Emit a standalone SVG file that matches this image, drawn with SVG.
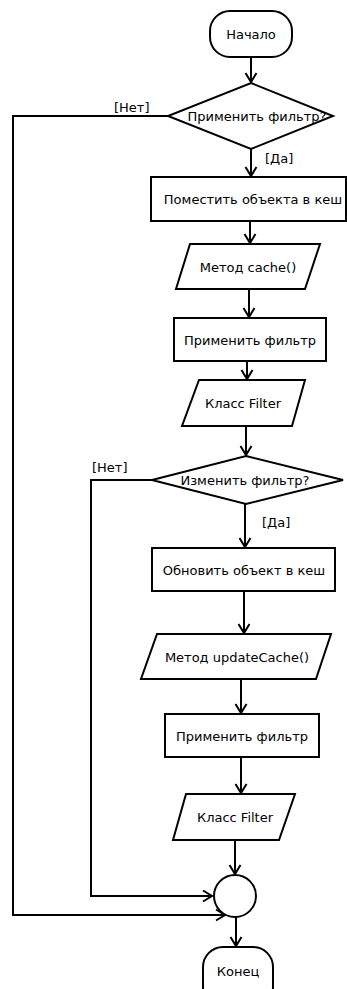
<svg xmlns="http://www.w3.org/2000/svg" width="347" height="989" viewBox="0 0 347 989">
<style>
.s{fill:#fff;stroke:#000;stroke-width:2}
.c{fill:none;stroke:#000;stroke-width:2}
text{font-family:"DejaVu Sans",Verdana,sans-serif;font-size:13px;fill:#000}
.m{text-anchor:middle}
</style>
<defs>
<marker id="a" markerUnits="userSpaceOnUse" markerWidth="14" markerHeight="14" refX="12" refY="7" orient="auto" viewBox="0 0 14 14">
<path d="M3,1.5 L12,7 L3,12.5" fill="none" stroke="#000" stroke-width="2"/>
</marker>
</defs>
<rect width="347" height="989" fill="#fff"/>
<g id="connectors">
<path class="c" d="M251,57 V82" marker-end="url(#a)"/>
<path class="c" d="M251,149 V176" marker-end="url(#a)"/>
<path class="c" d="M250,221 V243" marker-end="url(#a)"/>
<path class="c" d="M249,289 V317" marker-end="url(#a)"/>
<path class="c" d="M247,361 V379" marker-end="url(#a)"/>
<path class="c" d="M246,426 V455" marker-end="url(#a)"/>
<path class="c" d="M245,504 V547" marker-end="url(#a)"/>
<path class="c" d="M244,591 V633" marker-end="url(#a)"/>
<path class="c" d="M241,679 V713" marker-end="url(#a)"/>
<path class="c" d="M241,757 V793" marker-end="url(#a)"/>
<path class="c" d="M235,840 V874" marker-end="url(#a)"/>
<path class="c" d="M236,917 V946" marker-end="url(#a)"/>
<path class="c" d="M168,116 H13 V915 H225" marker-end="url(#a)"/>
<path class="c" d="M152,480 H91 V896 H212" marker-end="url(#a)"/>
<text x="114" y="112">[Нет]</text>
<text x="265" y="163">[Да]</text>
<text x="92" y="472">[Нет]</text>
<text x="262" y="527">[Да]</text>
</g>
<g id="start">
<rect class="s" x="210" y="11" width="82" height="46" rx="20" ry="20"/>
<text class="m" x="251" y="39">Начало</text>
</g>
<g id="dec1">
<polygon class="s" points="251,83 333,116 251,149 168,116"/>
<text class="m" x="257" y="121">Применить фильтр?</text>
</g>
<g id="put">
<rect class="s" x="151" y="177" width="195" height="44"/>
<text class="m" x="253" y="204">Поместить объекта в кеш</text>
</g>
<g id="cache">
<polygon class="s" points="190,244 320,244 305,289 176,289"/>
<text class="m" x="248" y="272">Метод cache()</text>
</g>
<g id="apply1">
<rect class="s" x="174" y="318" width="152" height="43"/>
<text class="m" x="250" y="345">Применить фильтр</text>
</g>
<g id="filter1">
<polygon class="s" points="199,380 305,380 292,426 182,426"/>
<text class="m" x="243" y="408">Класс Filter</text>
</g>
<g id="dec2">
<polygon class="s" points="246,456 343,480 246,504 152,480"/>
<text class="m" x="245" y="485">Изменить фильтр?</text>
</g>
<g id="update">
<rect class="s" x="152" y="548" width="183" height="43"/>
<text class="m" x="244" y="575">Обновить объект в кеш</text>
</g>
<g id="updateCache">
<polygon class="s" points="157,634 331,634 316,679 141,679"/>
<text class="m" x="237" y="662">Метод updateCache()</text>
</g>
<g id="apply2">
<rect class="s" x="165" y="714" width="154" height="43"/>
<text class="m" x="242" y="741">Применить фильтр</text>
</g>
<g id="filter2">
<polygon class="s" points="186,794 295,794 279,840 173,840"/>
<text class="m" x="235" y="822">Класс Filter</text>
</g>
<g id="merge">
<circle class="s" cx="235" cy="896" r="21"/>
</g>
<g id="end">
<rect class="s" x="203" y="947" width="70" height="60" rx="20" ry="20"/>
<text class="m" x="238" y="976">Конец</text>
</g>
</svg>
